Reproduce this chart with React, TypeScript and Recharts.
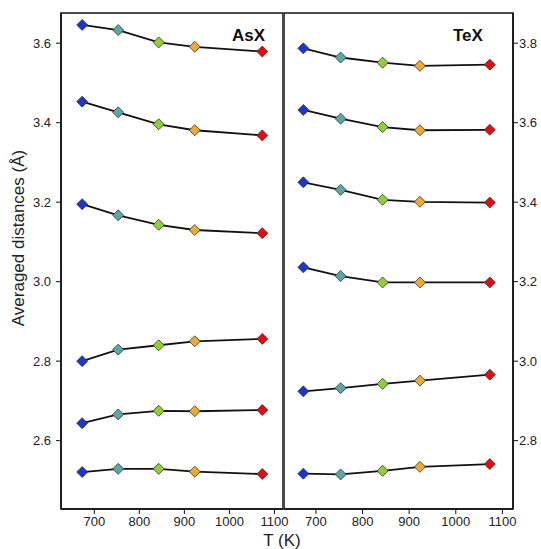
import React from 'react';
import { LineChart, Line, XAxis, YAxis, ReferenceArea } from 'recharts';

// temperatures (K) shared by both panels
const temps = [673, 753, 843, 923, 1073];
const markerColors = ['#1c36cc', '#5ba6a6', '#8fcf38', '#eeaa36', '#e20d12'];

// AsX panel, top to bottom
const asx1 = [3.646, 3.633, 3.602, 3.591, 3.579];
const asx2 = [3.453, 3.426, 3.396, 3.381, 3.368];
const asx3 = [3.195, 3.167, 3.143, 3.130, 3.122];
const asx4 = [2.800, 2.829, 2.840, 2.850, 2.856];
const asx5 = [2.644, 2.666, 2.675, 2.674, 2.677];
const asx6 = [2.521, 2.529, 2.529, 2.522, 2.516];

// TeX panel, top to bottom
const tex1 = [3.787, 3.764, 3.751, 3.743, 3.746];
const tex2 = [3.632, 3.610, 3.589, 3.581, 3.582];
const tex3 = [3.450, 3.431, 3.406, 3.401, 3.399];
const tex4 = [3.236, 3.214, 3.198, 3.198, 3.198];
const tex5 = [2.924, 2.932, 2.943, 2.951, 2.966];
const tex6 = [2.717, 2.715, 2.724, 2.734, 2.741];

const xTicks = [700, 800, 900, 1000, 1100];
const asxTicks = [2.6, 2.8, 3.0, 3.2, 3.4, 3.6];
const texTicks = [2.8, 3.0, 3.2, 3.4, 3.6, 3.8];

const asxX: [number, number] = [626, 1119];
const asxY: [number, number] = [2.428, 3.676];
const texX: [number, number] = [631.5, 1122.7];
const texY: [number, number] = [2.628, 3.876];

const asxData = temps.map((T, i) => ({
  T, s1: asx1[i], s2: asx2[i], s3: asx3[i], s4: asx4[i], s5: asx5[i], s6: asx6[i],
}));
const texData = temps.map((T, i) => ({
  T, s1: tex1[i], s2: tex2[i], s3: tex3[i], s4: tex4[i], s5: tex5[i], s6: tex6[i],
}));

const keys = ['s1', 's2', 's3', 's4', 's5', 's6'];
const FONT = '"Liberation Sans", Arial, sans-serif';
const tickStyle = { fontSize: 13, fill: '#222', fontFamily: FONT };

const Diamond = (props: any) => {
  const { cx, cy, index, dataKey } = props;
  if (cx == null || cy == null) return null;
  const r = 5.5;
  return (
    <polygon
      key={`${dataKey}-${index}`}
      points={`${cx},${cy - r} ${cx + r},${cy} ${cx},${cy + r} ${cx - r},${cy}`}
      fill={markerColors[index]}
      stroke="#333"
      strokeWidth={0.8}
    />
  );
};

const series = () =>
  keys.map((k) => (
    <Line
      key={k}
      dataKey={k}
      type="linear"
      stroke="#111"
      strokeWidth={1.8}
      dot={Diamond}
      activeDot={false}
      isAnimationActive={false}
    />
  ));

const frame = (x: [number, number], y: [number, number]) => (
  <ReferenceArea
    x1={x[0]} x2={x[1]} y1={y[0]} y2={y[1]}
    ifOverflow="visible"
    fill="#fff" fillOpacity={0} stroke="#111" strokeWidth={1.5}
  />
);

export default function App() {
  return (
    <div style={{ position: 'absolute', left: 0, top: 0, width: 541, height: 549, background: '#fff', fontFamily: FONT }}>
      <div style={{ position: 'absolute', left: 0, top: 0 }}>
        <LineChart width={290} height={549} data={asxData} margin={{ top: 13, right: 7, bottom: 10, left: 0 }}>
          <XAxis
            dataKey="T" type="number" domain={asxX} ticks={xTicks} allowDataOverflow
            height={30} tickSize={5} tickMargin={3} tick={tickStyle}
            axisLine={{ stroke: '#111', strokeWidth: 1.5 }} tickLine={{ stroke: '#111' }}
          />
          <YAxis
            type="number" domain={asxY} ticks={asxTicks} allowDataOverflow
            width={61} tickSize={5} tickMargin={5} tick={tickStyle}
            tickFormatter={(v: number) => v.toFixed(1)}
            axisLine={{ stroke: '#111', strokeWidth: 1.5 }} tickLine={{ stroke: '#111' }}
          />
          {frame(asxX, asxY)}
          {series()}
        </LineChart>
      </div>
      <div style={{ position: 'absolute', left: 284, top: 0 }}>
        <LineChart width={257} height={549} data={texData} margin={{ top: 13, right: 0, bottom: 10, left: 0 }}>
          <XAxis
            dataKey="T" type="number" domain={texX} ticks={xTicks} allowDataOverflow
            height={30} tickSize={5} tickMargin={3} tick={tickStyle}
            axisLine={{ stroke: '#111', strokeWidth: 1.5 }} tickLine={{ stroke: '#111' }}
          />
          <YAxis
            orientation="right" type="number" domain={texY} ticks={texTicks} allowDataOverflow
            width={28} tickSize={5} tickMargin={1} tick={{ ...tickStyle, textAnchor: 'start' }}
            tickFormatter={(v: number) => v.toFixed(1)}
            axisLine={{ stroke: '#111', strokeWidth: 1.5 }} tickLine={{ stroke: '#111' }}
          />
          {frame(texX, texY)}
          {series()}
        </LineChart>
      </div>
      <div style={{ position: 'absolute', left: 232, top: 26, fontSize: 17, fontWeight: 'bold', color: '#111' }}>AsX</div>
      <div style={{ position: 'absolute', left: 453, top: 26, fontSize: 17, fontWeight: 'bold', color: '#111' }}>TeX</div>
      <div
        style={{
          position: 'absolute', left: 19, top: 238, fontSize: 17, color: '#222', whiteSpace: 'nowrap',
          transform: 'translate(-50%, -50%) rotate(-90deg)',
        }}
      >
        Averaged distances (Å)
      </div>
      <div style={{ position: 'absolute', left: 282, top: 541, fontSize: 17, color: '#222', transform: 'translate(-50%, -50%)', whiteSpace: 'nowrap' }}>
        T (K)
      </div>
    </div>
  );
}
